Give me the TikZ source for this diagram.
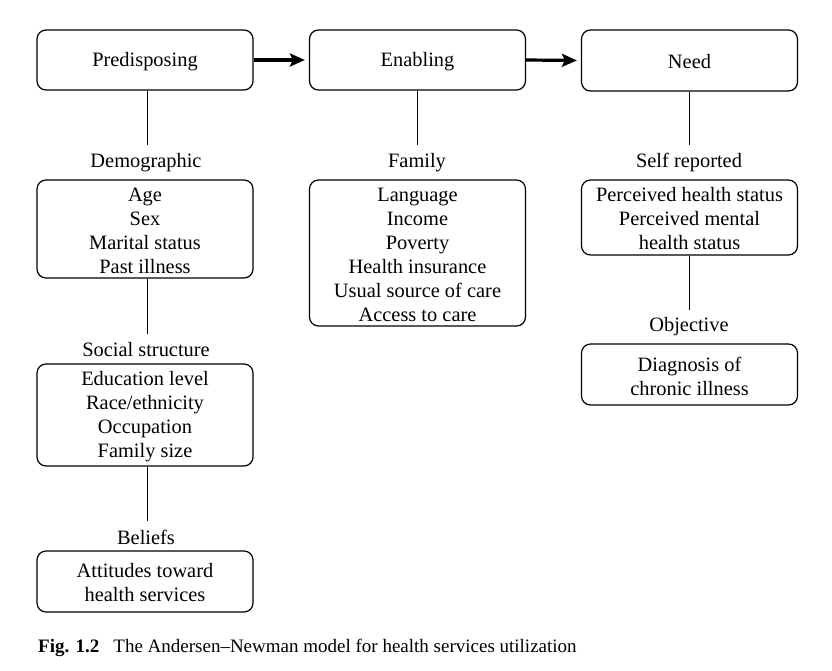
\documentclass[tikz,border=0pt]{standalone}
\usepackage{fontspec}
\setmainfont{Liberation Serif}
\usetikzlibrary{arrows.meta}
\begin{document}
\begin{tikzpicture}[x=1pt,y=-1pt,
  box/.style={draw, rounded corners=9pt, line width=1.2pt, minimum width=216pt, inner sep=0pt},
  txt/.style={align=center, inner sep=0pt, yshift=-1.5pt, font=\fontsize{20.4}{24}\selectfont},
  lbl/.style={inner sep=0pt, yshift=-1.5pt, font=\fontsize{20.4}{24}\selectfont},
  conn/.style={line width=0.9pt},
  flow/.style={line width=3.2pt, -{Stealth[length=15pt,width=13pt,inset=3pt]}, shorten >=4pt}]
\useasboundingbox (0,0) rectangle (832,670);
% top boxes
\node[box, minimum height=60pt] (pre) at (145,60) {};
\node[txt] at (pre) {Predisposing};
\node[box, minimum height=60pt] (ena) at (417.5,60) {};
\node[txt] at (ena) {Enabling};
\node[box, minimum height=61pt] (need) at (689.5,60.5) {};
\node[txt] at (need) {Need};
\draw[flow] (pre.east) -- (ena.west);
\draw[flow] (ena.east) -- (need.west);
% column 1
\node[lbl] (demo) at (146,161) {Demographic};
\node[box, minimum height=98pt] (demob) at (145,229) {};
\node[txt] at (demob) {Age\\Sex\\Marital status\\Past illness};
\node[lbl] (soc) at (146,348) {Social structure};
\node[box, minimum height=102pt] (socb) at (145,415) {};
\node[txt] at (socb) {Education level\\Race/ethnicity\\Occupation\\Family size};
\node[lbl] (bel) at (146,536) {Beliefs};
\node[box, minimum height=61pt] (belb) at (145,581.5) {};
\node[txt] at (belb) {Attitudes toward\\health services};
\coordinate (c1a) at (147,145);
\coordinate (c1b) at (147,334);
\coordinate (c1c) at (147,521);
\draw[conn] (pre.south -| c1a) -- (c1a);
\draw[conn] (demob.south -| c1b) -- (c1b);
\draw[conn] (socb.south -| c1c) -- (c1c);
% column 2
\node[lbl] (fam) at (417,161) {Family};
\node[box, minimum height=146pt] (famb) at (417.5,253) {};
\node[txt] at (famb) {Language\\Income\\Poverty\\Health insurance\\Usual source of care\\Access to care};
\coordinate (c2a) at (417,145);
\draw[conn] (ena.south -| c2a) -- (c2a);
% column 3
\node[lbl] (self) at (689,161) {Self reported};
\node[box, minimum height=75pt] (selfb) at (689.5,217.5) {};
\node[txt] at (selfb) {Perceived health status\\Perceived mental\\health status};
\node[lbl] (obj) at (689,325) {Objective};
\node[box, minimum height=61pt] (objb) at (689.5,374.5) {};
\node[txt] at (objb) {Diagnosis of\\chronic illness};
\coordinate (c3a) at (689,145);
\coordinate (c3b) at (689,310);
\draw[conn] (need.south -| c3a) -- (c3a);
\draw[conn] (selfb.south -| c3b) -- (c3b);
% caption
\node[anchor=base west, inner sep=0pt, font=\fontsize{19}{22}\selectfont] (cap) at (38,652)
  {\textbf{Fig. 1.2}\hspace{14pt}The Andersen–Newman model for health services utilization};
\end{tikzpicture}
\end{document}
